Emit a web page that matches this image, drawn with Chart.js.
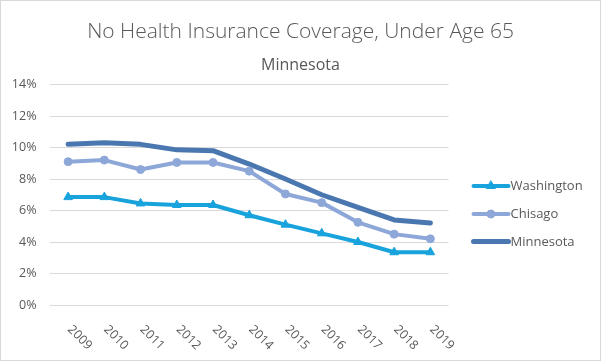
<!DOCTYPE html>
<html>
<head>
<meta charset="utf-8">
<script src="https://cdn.jsdelivr.net/npm/chart.js@4.4.1/dist/chart.umd.min.js"></script>
<style>
    html, body { margin: 0; padding: 0; background: #fff; }
    #wrap { width: 601px; height: 361px; box-sizing: border-box; border: 1px solid #d9d9d9; }
    canvas { display: block; }
</style>
</head>
<body>
<div id="wrap"><canvas id="chart" width="599" height="359"></canvas></div>
<script>
// Data
const years = ['2009', '2010', '2011', '2012', '2013', '2014', '2015', '2016', '2017', '2018', '2019'];
const washington = [6.85, 6.85, 6.45, 6.35, 6.35, 5.7, 5.1, 4.55, 4.0, 3.35, 3.35];
const chisago = [9.1, 9.2, 8.6, 9.05, 9.05, 8.5, 7.05, 6.5, 5.25, 4.5, 4.2];
const minnesota = [10.2, 10.3, 10.2, 9.85, 9.8, 8.95, 8.0, 7.0, 6.2, 5.4, 5.2];
const yTicks = [0, 2, 4, 6, 8, 10, 12, 14];

const titleText = 'No Health Insurance Coverage, Under Age 65';
const subtitleText = 'Minnesota';

const textColor = '#595959';
const gridColor = '#d9d9d9';
Chart.defaults.font.family = "'Open Sans', sans-serif";
Chart.defaults.color = textColor;

// title + subtitle centred over the whole canvas (legend sits at the right)
const titlePlugin = {
    id: 'fullTitle',
    afterDraw(chart) {
        const ctx = chart.ctx;
        const cx = chart.width / 2;
        ctx.save();
        ctx.fillStyle = textColor;
        ctx.textAlign = 'center';
        ctx.textBaseline = 'alphabetic';
        ctx.font = "300 21px 'Open Sans', sans-serif";
        ctx.fillText(titleText, cx, 36.5);
        ctx.font = "16px 'Open Sans', sans-serif";
        ctx.fillText(subtitleText, cx, 69);
        ctx.restore();
    }
};

// rotated year labels (clockwise, like Excel)
const xLabelsPlugin = {
    id: 'xLabels',
    afterDraw(chart) {
        const ctx = chart.ctx;
        const xs = chart.scales.x;
        const bottom = chart.chartArea.bottom;
        ctx.save();
        ctx.font = "12.5px 'Open Sans', sans-serif";
        ctx.fillStyle = textColor;
        ctx.textAlign = 'left';
        ctx.textBaseline = 'middle';
        years.forEach(function (y, i) {
            ctx.save();
            ctx.translate(xs.getPixelForTick(i) + 1.5, bottom + 22.5);
            ctx.rotate(Math.PI / 4);
            ctx.fillText(y, 0, 0);
            ctx.restore();
        });
        ctx.restore();
    }
};

// legend with line + marker samples
const legendPlugin = {
    id: 'sideLegend',
    afterDraw(chart) {
        const ctx = chart.ctx;
        const x0 = chart.chartArea.right + 25;
        const rows = [185, 213, 240.5];
        ctx.save();
        ctx.font = "13px 'Open Sans', sans-serif";
        ctx.textBaseline = 'middle';
        ctx.textAlign = 'left';
        chart.data.datasets.forEach(function (ds, i) {
            const y = rows[i];
            ctx.strokeStyle = ds.borderColor;
            ctx.fillStyle = ds.backgroundColor;
            ctx.lineWidth = ds.borderWidth;
            ctx.lineCap = 'round';
            ctx.beginPath();
            ctx.moveTo(x0, y);
            ctx.lineTo(x0 + 35, y);
            ctx.stroke();
            if (ds.pointRadius > 0) {
                ctx.lineWidth = 1;
                Chart.helpers.drawPoint(ctx, {
                    pointStyle: ds.pointStyle,
                    radius: ds.pointRadius,
                    borderWidth: 1
                }, x0 + 17.5, y);
            }
            ctx.fillStyle = textColor;
            ctx.fillText(ds.label, x0 + 37, y + 0.5);
        });
        ctx.restore();
    }
};

const ctx = document.getElementById('chart').getContext('2d');
new Chart(ctx, {
    type: 'line',
    data: {
        labels: years,
        datasets: [{
            label: 'Washington',
            data: washington,
            borderColor: '#19a3dd',
            backgroundColor: '#19a3dd',
            borderWidth: 4,
            pointStyle: 'triangle',
            pointRadius: 5,
            pointBorderWidth: 1
        }, {
            label: 'Chisago',
            data: chisago,
            borderColor: '#8ea7d9',
            backgroundColor: '#8ea7d9',
            borderWidth: 4,
            pointStyle: 'circle',
            pointRadius: 4,
            pointBorderWidth: 1
        }, {
            label: 'Minnesota',
            data: minnesota,
            borderColor: '#4b77b1',
            backgroundColor: '#4b77b1',
            borderWidth: 5,
            pointRadius: 0
        }]
    },
    options: {
        responsive: false,
        animation: false,
        events: [],
        datasets: {
            line: {
                tension: 0,
                borderCapStyle: 'round',
                borderJoinStyle: 'round'
            }
        },
        layout: {
            padding: { left: 11, right: 151.5, top: 83.5, bottom: 55 }
        },
        plugins: {
            legend: { display: false },
            tooltip: { enabled: false },
            title: { display: false },
            subtitle: { display: false }
        },
        scales: {
            x: {
                offset: true,
                grid: { display: false, drawTicks: false },
                border: { display: false },
                ticks: { display: false }
            },
            y: {
                min: yTicks[0],
                max: yTicks[yTicks.length - 1],
                afterBuildTicks: function (scale) {
                    scale.ticks = yTicks.map(function (v) { return { value: v }; });
                },
                afterFit: function (scale) { scale.width = 38; },
                grid: { color: gridColor, drawTicks: false },
                border: { display: false },
                ticks: {
                    padding: 13.5,
                    font: { size: 12.5 },
                    color: textColor,
                    callback: function (v) { return v + '%'; }
                }
            }
        }
    },
    plugins: [titlePlugin, xLabelsPlugin, legendPlugin]
});
</script>
</body>
</html>
